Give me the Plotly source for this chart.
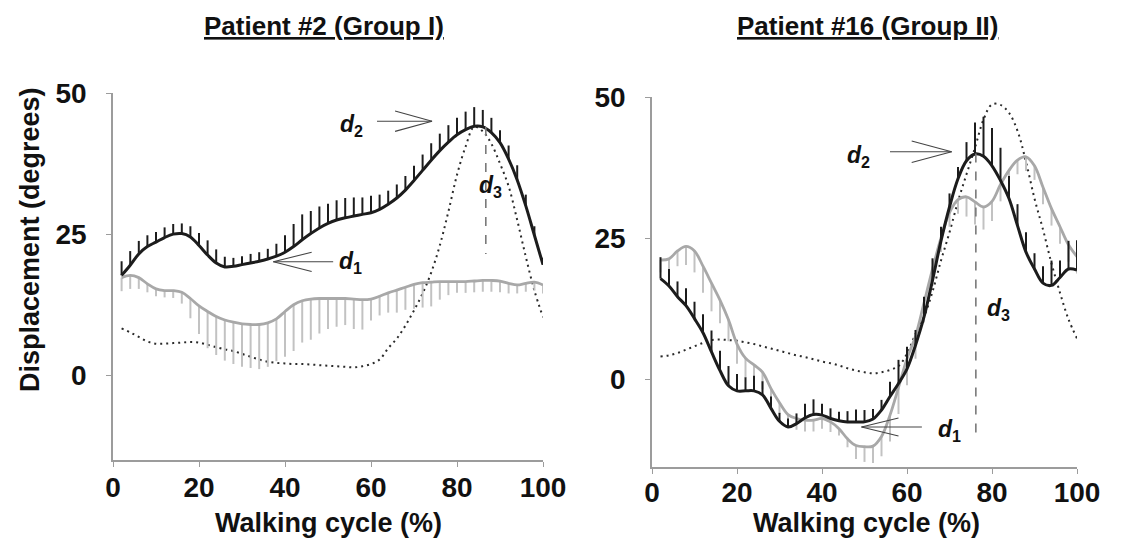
import plotly.graph_objects as go

# ---------------- data ----------------
cycle = [2, 4, 6, 8, 10, 12, 14, 16, 18, 20, 22, 24, 26, 28, 30, 32, 34, 36, 38, 40,
         42, 44, 46, 48, 50, 52, 54, 56, 58, 60, 62, 64, 66, 68, 70, 72, 74, 76, 78, 80,
         82, 84, 86, 88, 90, 92, 94, 96, 98, 100]

# Patient #2 (Group I)
p2_black = [17.7, 19.5, 21.5, 22.8, 23.6, 24.4, 25.0, 25.1, 24.5, 23.0,
            21.3, 19.9, 19.2, 19.3, 19.6, 19.9, 20.2, 20.6, 21.1, 21.8,
            22.8, 24.0, 25.1, 26.1, 26.9, 27.5, 27.9, 28.2, 28.5, 28.8,
            29.4, 30.3, 31.4, 32.8, 34.5, 36.3, 38.1, 39.8, 41.3, 42.6,
            43.5, 44.1, 44.0, 43.0, 41.2, 38.3, 34.6, 30.0, 24.8, 19.6]
p2_black_sd = [2.5, 2.5, 2.3, 2.0, 1.8, 1.8, 1.8, 1.8, 1.9, 2.2,
               2.6, 2.4, 1.8, 1.5, 1.5, 1.6, 1.6, 1.8, 2.2, 3.0,
               4.0, 4.5, 4.0, 3.8, 3.5, 3.5, 3.5, 3.3, 3.0, 3.0,
               2.6, 2.4, 2.4, 2.5, 2.6, 2.8, 3.0, 3.0, 3.0, 3.0,
               3.2, 3.4, 3.0, 2.6, 2.2, 2.4, 2.6, 2.0, 1.6, 1.2]
p2_gray = [17.3, 17.7, 17.3, 16.2, 15.3, 15.0, 15.0, 14.7, 13.6, 12.3,
           11.3, 10.4, 9.8, 9.4, 9.1, 9.0, 9.0, 9.3, 10.0, 11.3,
           12.5, 13.2, 13.5, 13.6, 13.6, 13.6, 13.6, 13.5, 13.4, 13.5,
           14.0, 14.6, 15.1, 15.6, 16.1, 16.4, 16.5, 16.6, 16.6, 16.6,
           16.6, 16.7, 16.8, 16.8, 16.7, 16.3, 16.0, 16.3, 16.5, 16.0]
p2_gray_sd = [2.4, 2.4, 2.0, 1.5, 1.3, 1.2, 1.3, 2.0, 3.5, 5.0,
              6.5, 6.8, 7.2, 7.4, 7.6, 7.7, 7.9, 7.8, 7.5, 8.0,
              8.2, 7.4, 7.2, 6.2, 5.4, 5.0, 4.7, 5.3, 5.3, 3.8,
              3.4, 3.5, 4.0, 4.0, 4.3, 4.4, 4.3, 3.2, 2.4, 2.0,
              2.0, 2.0, 2.0, 2.0, 2.0, 1.8, 1.5, 1.5, 1.5, 1.5]
p2_normal = [8.3, 7.6, 6.8, 6.0, 5.6, 5.6, 5.7, 5.8, 5.9, 5.8,
             5.4, 5.0, 4.6, 4.3, 3.8, 3.3, 2.8, 2.4, 2.2, 2.1,
             2.0, 2.0, 1.9, 1.8, 1.7, 1.6, 1.5, 1.4, 1.6, 2.0,
             2.8, 4.8, 6.5, 8.8, 11.5, 14.5, 18.2, 23.0, 29.0, 35.5,
             40.5, 44.0, 43.2, 41.0, 37.5, 33.5, 27.5, 21.0, 15.0, 10.3]

# Patient #16 (Group II)
p16_black = [17.8, 16.5, 14.6, 13.0, 10.7, 8.2, 4.8, 1.5, -1.2, -2.1,
             -2.1, -2.1, -2.8, -5.2, -7.5, -8.5, -7.9, -6.9, -6.3, -6.4,
             -7.0, -7.4, -7.6, -7.6, -7.6, -7.1, -5.5, -3.1, -0.8, 1.8,
             6.0, 11.0, 17.5, 24.5, 30.5, 35.5, 38.7, 39.9, 39.5, 37.8,
             35.2, 32.0, 27.2, 22.5, 19.5, 17.0, 16.6, 18.0, 19.5, 19.3]
p16_black_sd = [3.8, 3.0, 2.7, 3.1, 3.0, 3.3, 3.8, 3.5, 3.5, 3.0,
                2.4, 2.7, 2.4, 2.1, 1.5, 1.5, 1.8, 2.5, 2.7, 2.0,
                1.8, 1.6, 1.9, 2.2, 2.1, 1.8, 1.8, 2.6, 4.2, 3.9,
                2.7, 3.6, 3.9, 2.5, 2.4, 2.1, 3.3, 5.6, 7.0, 6.7,
                5.8, 4.0, 3.8, 3.5, 2.8, 3.0, 4.4, 3.0, 5.0, 5.3]
p16_gray = [21.1, 21.3, 22.7, 23.5, 22.7, 20.0, 17.0, 14.0, 10.5, 6.2,
            3.7, 2.5, 1.2, -1.7, -4.2, -6.3, -7.0, -7.3, -7.3, -7.0,
            -7.6, -8.8, -10.6, -11.8, -12.0, -11.9, -10.2, -6.4, -1.5, 3.6,
            7.6, 13.5, 19.5, 25.0, 29.5, 31.8, 32.3, 31.4, 30.5, 31.5,
            34.5, 37.0, 38.8, 39.4, 37.8, 34.0, 30.2, 27.0, 23.8, 21.7]
p16_gray_sd = [2.2, 2.4, 2.7, 3.3, 3.8, 4.7, 5.0, 4.1, 3.8, 3.5,
               3.5, 3.5, 3.0, 2.7, 2.0, 1.8, 2.0, 2.0, 2.0, 1.8,
               1.8, 1.2, 1.5, 2.4, 2.7, 3.0, 3.5, 4.7, 4.7, 4.7,
               4.0, 3.5, 3.0, 2.5, 2.5, 2.5, 3.5, 4.0, 4.0, 3.5,
               3.0, 3.0, 2.5, 2.5, 2.5, 3.0, 3.0, 3.0, 3.0, 3.0]
p16_normal = [4.0, 4.2, 4.6, 5.2, 5.8, 6.4, 6.9, 7.0, 6.9, 6.8,
              6.5, 6.2, 5.8, 5.4, 5.0, 4.6, 4.2, 3.9, 3.5, 3.1,
              2.8, 2.4, 1.9, 1.5, 1.2, 1.0, 1.2, 1.6, 2.3, 4.5,
              8.0, 11.0, 15.5, 21.0, 26.0, 31.5, 36.3, 41.0, 46.0, 48.7,
              48.6, 47.2, 44.0, 38.5, 32.0, 26.5, 20.5, 15.3, 10.6, 7.2]

x_ticks = [0, 20, 40, 60, 80, 100]
y_ticks = [0, 25, 50]
titles = ["Patient #2 (Group I)", "Patient #16 (Group II)"]
x_title = "Walking cycle (%)"
y_title = "Displacement (degrees)"

# ---------------- figure ----------------
# the page body adds an 8 px margin, so the figure is drawn 8 px in from the window corner
OFF = 8
W, H = 1121 - OFF, 538 - OFF
FONT = "Liberation Sans, Arial, sans-serif"
BLACK = "#1c1c1c"
GRAY_LINE = "#a8a8a8"
GRAY_BAR = "#c2c2c2"
AXIS = "#9c9c9c"

fig = go.Figure()


def add_panel(xa, ya, normal, gray, gray_sd, black, black_sd):
    zeros = [0] * len(cycle)
    fig.add_trace(go.Scatter(
        x=cycle, y=normal, xaxis=xa, yaxis=ya, mode="lines",
        line=dict(color="#2a2a2a", width=2, dash="2px,4px", shape="spline"),
        showlegend=False, hoverinfo="skip"))
    fig.add_trace(go.Scatter(
        x=cycle, y=gray, xaxis=xa, yaxis=ya, mode="lines",
        line=dict(color=GRAY_LINE, width=2.8, shape="spline"),
        error_y=dict(type="data", symmetric=False, array=zeros, arrayminus=gray_sd,
                     color=GRAY_BAR, thickness=2, width=0),
        showlegend=False, hoverinfo="skip"))
    fig.add_trace(go.Scatter(
        x=cycle, y=black, xaxis=xa, yaxis=ya, mode="lines",
        line=dict(color=BLACK, width=3, shape="spline"),
        error_y=dict(type="data", symmetric=False, array=black_sd, arrayminus=zeros,
                     color=BLACK, thickness=2, width=0),
        showlegend=False, hoverinfo="skip"))


add_panel("x", "y", p2_normal, p2_gray, p2_gray_sd, p2_black, p2_black_sd)
add_panel("x2", "y2", p16_normal, p16_gray, p16_gray_sd, p16_black, p16_black_sd)


def px(a):
    return (a - OFF) / W


def py(b):
    return 1 - (b - OFF) / H


axis_common = dict(showline=True, linecolor=AXIS, linewidth=1.5, ticks="outside",
                   ticklen=5, tickwidth=1.2, tickcolor=AXIS, showgrid=False, zeroline=False,
                   automargin=False,
                   tickfont=dict(family=FONT, size=28, color="#111111", weight="bold"))

fig.update_layout(
    width=W, height=H, margin=dict(l=0, r=0, t=0, b=0, autoexpand=False),
    paper_bgcolor="white", plot_bgcolor="white",
    xaxis=dict(domain=[px(113), px(543)], range=[0, 100], tickvals=x_ticks, anchor="y",
               ticklabelstandoff=-3, **axis_common),
    yaxis=dict(domain=[py(460), py(93)], range=[-15, 50], tickvals=y_ticks, anchor="x",
               ticklabelstandoff=14, **axis_common),
    xaxis2=dict(domain=[px(652), px(1077)], range=[0, 100], tickvals=x_ticks, anchor="y2",
                ticklabelstandoff=-5, **axis_common),
    yaxis2=dict(domain=[py(467), py(97)], range=[-15.6, 50], tickvals=y_ticks, anchor="x2",
                ticklabelstandoff=14, **axis_common),
)

ann = []
# panel titles
for txt, cx in zip(titles, [324, 868]):
    ann.append(dict(text="<b><u>" + txt + "</u></b>", x=px(cx), y=py(26),
                    xref="paper", yref="paper", showarrow=False, xanchor="center",
                    yanchor="middle", font=dict(family=FONT, size=26, color="#111111")))
# x axis titles
for cx in [328, 866]:
    ann.append(dict(text="<b>" + x_title + "</b>", x=px(cx), y=py(523),
                    xref="paper", yref="paper", showarrow=False, xanchor="center",
                    yanchor="middle", font=dict(family=FONT, size=27, color="#111111")))
# y axis title
ann.append(dict(text="<b>" + y_title + "</b>", x=px(30), y=py(240), textangle=-90,
                xref="paper", yref="paper", showarrow=False, xanchor="center",
                yanchor="middle", font=dict(family=FONT, size=27, color="#111111")))

# d labels (x, y in data units of each panel)
d_labels = [("x", "y", 2, 55.4, 44.3), ("x", "y", 1, 55.3, 19.9), ("x", "y", 3, 87.9, 33.5),
            ("x2", "y2", 2, 48.7, 39.4), ("x2", "y2", 1, 69.9, -9.2), ("x2", "y2", 3, 81.6, 12.4)]
for xr, yr, k, lx, ly in d_labels:
    ann.append(dict(text="<i>d</i><sub>%d</sub>" % k, x=lx, y=ly, xref=xr, yref=yr,
                    showarrow=False, xanchor="center", yanchor="middle",
                    font=dict(family=FONT, size=23, color="#111111", weight="bold")))
fig.update_layout(annotations=ann)

# arrows: (xref, yref, tail_x, tip_x, y, arm_x, arm_dy)
arrows = [("x", "y", 61.4, 74.2, 45.0, 65.6, 1.8),
          ("x", "y", 51.2, 37.3, 20.1, 46.2, 1.7),
          ("x2", "y2", 56.0, 70.5, 40.3, 61.1, 1.9),
          ("x2", "y2", 63.5, 49.3, -8.5, 58.0, 1.6)]
shapes = []
for xr, yr, tx, tipx, tipy, ax, ady in arrows:
    ln = dict(color="#444444", width=1.1)
    shapes.append(dict(type="line", xref=xr, yref=yr, x0=tx, x1=tipx, y0=tipy, y1=tipy, line=ln))
    shapes.append(dict(type="line", xref=xr, yref=yr, x0=ax, x1=tipx, y0=tipy + ady, y1=tipy, line=ln))
    shapes.append(dict(type="line", xref=xr, yref=yr, x0=ax, x1=tipx, y0=tipy - ady, y1=tipy, line=ln))
# d3 dashed verticals
for xr, yr, vx, y0, y1 in [("x", "y", 86.7, 44.0, 21.5), ("x2", "y2", 76.2, 40.0, -10.5)]:
    shapes.append(dict(type="line", xref=xr, yref=yr, x0=vx, x1=vx, y0=y0, y1=y1,
                       line=dict(color="#7a7a7a", width=1.6, dash="dash")))
fig.update_layout(shapes=shapes)

fig.write_html("out.html")
